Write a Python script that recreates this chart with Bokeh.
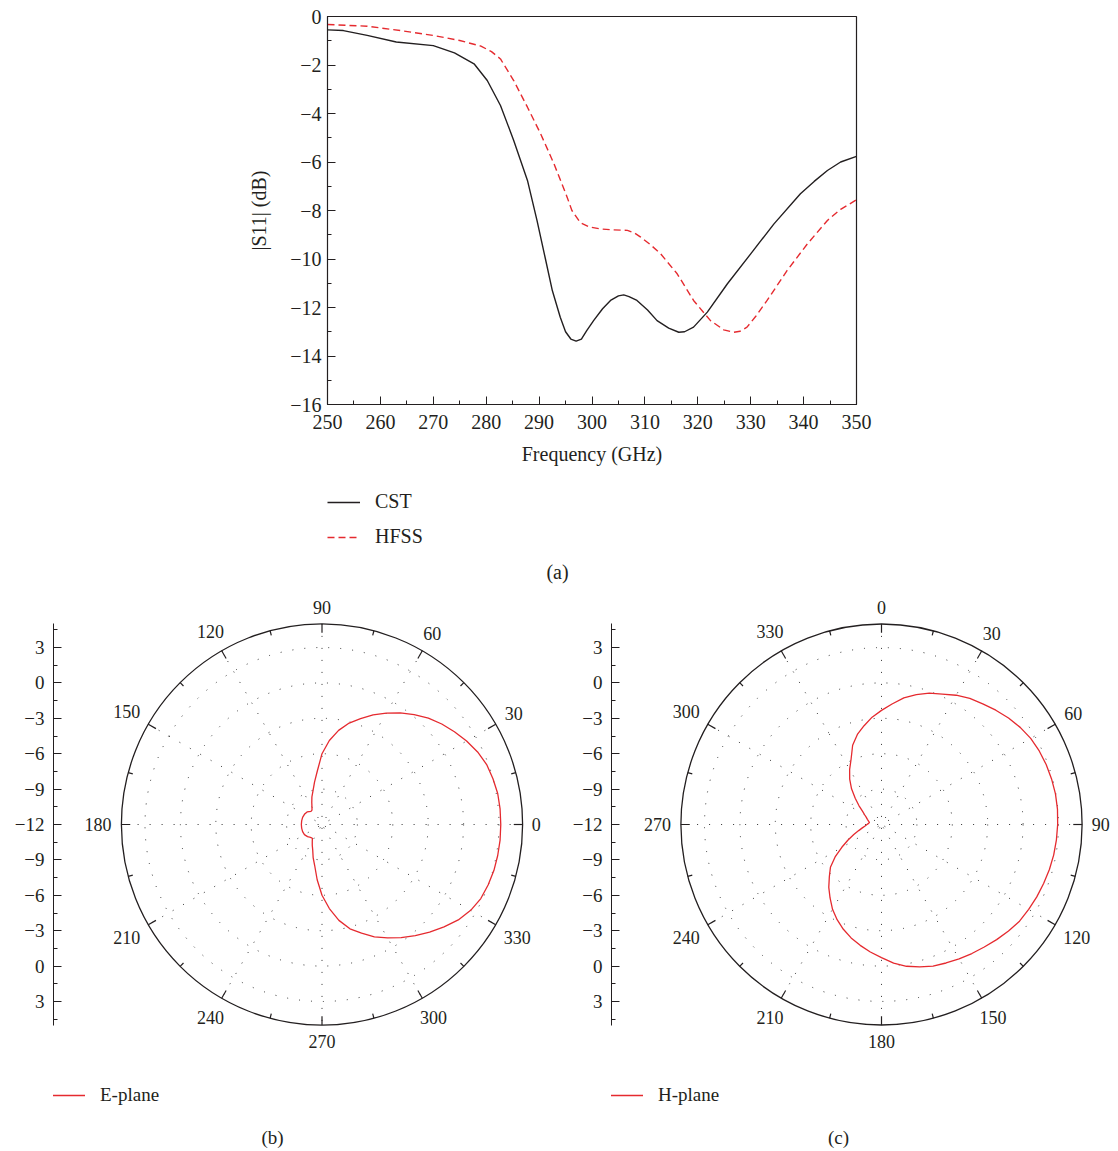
import numpy as np
from bokeh.plotting import figure
from bokeh.models import (Range1d, LinearAxis, FixedTicker, Legend, LegendItem,
                          Label, CustomJSTickFormatter)
from bokeh.layouts import column, row
from bokeh.embed import file_html
from bokeh.resources import INLINE
from bokeh.core.properties import value

FONT = "Liberation Serif"
INK = "#231f20"
RED = "#e52a2f"

# ---------------- data: (a) |S11| ----------------
cst_freq = [250, 253, 257.5, 263, 270, 274, 277.7, 280.2, 282.7, 285.2, 287.8, 289.6,
            291.2, 292.5, 294, 295, 296, 297, 298, 299, 300.3, 302, 303.5, 305, 306,
            307, 308.5, 310.5, 312.3, 314.5, 316.4, 317.5, 319.2, 321.8, 325.6, 330,
            334.4, 339.4, 342, 344.5, 347, 350]
cst_s11 = [-0.55, -0.58, -0.78, -1.05, -1.2, -1.5, -1.95, -2.64, -3.67, -5.11, -6.76, -8.41,
           -10.0, -11.3, -12.4, -13.0, -13.3, -13.39, -13.3, -12.95, -12.54, -12.05, -11.71,
           -11.52, -11.48, -11.55, -11.71, -12.1, -12.54, -12.85, -13.02, -13.0, -12.81,
           -12.19, -11.02, -9.79, -8.55, -7.31, -6.8, -6.35, -6.0, -5.77]
hfss_freq = [250, 257.5, 263.8, 270, 275, 279, 281, 282.7, 285.2, 287.8, 290.3, 292.8,
             295.3, 296.2, 297.8, 299.5, 301.6, 304, 306.7, 308, 309.2, 311, 313, 316.1,
             319.2, 322.4, 324.9, 326.8, 328, 329.3, 331, 333.1, 336.9, 340.7, 344.5,
             347, 350]
hfss_s11 = [-0.33, -0.4, -0.58, -0.78, -0.99, -1.22, -1.45, -1.75, -2.64, -3.74, -4.84,
            -6.07, -7.45, -8.0, -8.5, -8.68, -8.76, -8.8, -8.82, -8.92, -9.1, -9.4, -9.79,
            -10.61, -11.71, -12.54, -12.92, -13.02, -12.98, -12.81, -12.35, -11.71, -10.47,
            -9.38, -8.41, -7.95, -7.56]
freq_ticks = [250, 260, 270, 280, 290, 300, 310, 320, 330, 340, 350]
freq_minor = [250, 255, 260, 265, 270, 275, 280, 285, 290, 295, 300, 305, 310, 315, 320,
              325, 330, 335, 340, 345, 350]
s11_ticks = [-16, -14, -12, -10, -8, -6, -4, -2, 0]
s11_minor = [-16, -15, -14, -13, -12, -11, -10, -9, -8, -7, -6, -5, -4, -3, -2, -1, 0]

# ---------------- data: (b) E-plane, (c) H-plane (dB vs angle in degrees) ----------------
e_angle = [0, 5, 10, 15, 20, 25, 30, 35, 40, 45, 50, 55, 60, 65, 70, 75, 80, 85, 90, 95,
           100, 105, 110, 115, 120, 125, 130, 135, 140, 150, 160, 170, 180, 190, 200, 210,
           220, 225, 230, 235, 240, 245, 250, 255, 260, 265, 270, 275, 280, 285, 290, 295,
           300, 305, 310, 315, 320, 325, 330, 335, 340, 345, 350, 355, 360]
e_gain = [3.15, 3.15, 3.12, 3.0, 2.85, 2.55, 2.15, 1.7, 1.25, 0.75, 0.15, -0.45, -1.1,
          -1.75, -2.45, -3.1, -3.9, -4.85, -6.0, -7.45, -8.35, -9.05, -9.5, -9.95, -10.3,
          -10.52, -10.55, -10.45, -10.35, -10.28, -10.25, -10.25, -10.25, -10.25, -10.25,
          -10.28, -10.4, -10.5, -10.55, -10.58, -10.35, -10.05, -9.7, -9.1, -8.45, -7.3,
          -6.0, -4.85, -3.75, -2.85, -2.2, -1.5, -0.9, -0.3, 0.3, 0.9, 1.5, 2.1, 2.55,
          2.85, 2.98, 3.08, 3.12, 3.15, 3.15]
h_angle = [0, 5, 10, 15, 20, 25, 30, 35, 40, 45, 50, 55, 60, 65, 70, 75, 80, 85, 90, 95,
           100, 105, 110, 115, 120, 125, 130, 135, 140, 145, 150, 155, 160, 165, 170, 175,
           180, 185, 190, 195, 200, 205, 210, 215, 220, 225, 230, 235, 240, 245, 250, 255,
           260, 265, 270, 275, 279, 285, 290, 295, 300, 305, 310, 315, 320, 325, 330, 335,
           340, 345, 350, 355, 360]
h_gain = [-2.33, -1.75, -1.1, -0.6, -0.15, 0.2, 0.65, 1.05, 1.35, 1.7, 2.05, 2.35, 2.6,
          2.75, 2.85, 2.92, 2.97, 2.97, 2.93, 2.88, 2.82, 2.73, 2.62, 2.52, 2.4, 2.28, 2.05,
          1.8, 1.55, 1.35, 1.15, 0.95, 0.77, 0.5, 0.2, -0.2, -0.72, -1.15, -1.6, -2.05,
          -2.55, -3.1, -3.7, -4.4, -5.05, -5.75, -6.35, -7.2, -8.1, -8.85, -9.5, -10.0,
          -10.35, -10.6, -10.77, -10.9, -10.97, -10.86, -10.73, -10.58, -10.35, -10.03,
          -9.5, -8.85, -8.05, -7.3, -6.6, -5.9, -4.85, -4.1, -3.5, -2.87, -2.33]
polar_min_db = -12
polar_max_db = 5
polar_ring_db = [-9, -6, -3, 0, 3]
polar_label_db = [3, 0, -3, -6, -9, -12, -9, -6, -3, 0, 3]
angle_labels = [0, 30, 60, 90, 120, 150, 180, 210, 240, 270, 300, 330]

# ---------------- (a) ----------------
pa = figure(width=1118, height=470, x_range=Range1d(250, 350), y_range=Range1d(-16, 0),
            output_backend="svg", toolbar_location=None,
            min_border_left=327, min_border_right=262, min_border_top=16, min_border_bottom=66)
pa.xgrid.visible = False
pa.ygrid.visible = False
pa.outline_line_color = INK
pa.outline_line_alpha = 1
pa.outline_line_width = 1.2
pa.background_fill_color = None
pa.border_fill_color = None

pa.xaxis.ticker = FixedTicker(ticks=freq_ticks, minor_ticks=freq_minor)
pa.yaxis.ticker = FixedTicker(ticks=s11_ticks, minor_ticks=s11_minor)
pa.yaxis.formatter = CustomJSTickFormatter(
    code="return tick < 0 ? '\u2212' + Math.abs(tick) : String(tick);")
for ax in (pa.xaxis[0], pa.yaxis[0]):
    ax.major_tick_in = 8
    ax.major_tick_out = 0
    ax.minor_tick_in = 4
    ax.minor_tick_out = 0
    ax.axis_line_color = INK
    ax.major_tick_line_color = INK
    ax.minor_tick_line_color = INK
    ax.major_label_text_font = FONT
    ax.major_label_text_font_size = "20px"
    ax.major_label_text_color = INK
    ax.axis_label_text_font = FONT
    ax.axis_label_text_font_size = "20px"
    ax.axis_label_text_font_style = "normal"
    ax.axis_label_text_color = INK
pa.xaxis.axis_label = "Frequency (GHz)"
pa.yaxis.axis_label = "|S11| (dB)"
pa.xaxis.major_label_standoff = 10
pa.xaxis.axis_label_standoff = 11
pa.yaxis.major_label_standoff = 6
pa.yaxis.axis_label_standoff = 17

pa.line(cst_freq, cst_s11, line_color=INK, line_width=1.4)
pa.line(hfss_freq, hfss_s11, line_color=RED, line_width=1.4, line_dash="7 4")

# ---------------- legend / caption strip for (a) ----------------
# (the column layout aligns this strip's frame with the frame of (a): x 327..856 px)
STRIP_H = 120
pl = figure(width=1118, height=STRIP_H, x_range=Range1d(327, 856), y_range=Range1d(0, STRIP_H),
            output_backend="svg", toolbar_location=None, x_axis_type=None, y_axis_type=None,
            min_border_left=327, min_border_right=262, min_border_top=0, min_border_bottom=0)
pl.xgrid.visible = False
pl.ygrid.visible = False
pl.outline_line_color = None
pl.background_fill_color = None
pl.border_fill_color = None
# legend proxies: carry only the line styles, nothing is plotted by them
k_cst = pl.line(x=np.array([np.nan]), y=np.array([np.nan]), line_color=INK, line_width=1.4)
k_hfss = pl.line(x=np.array([np.nan]), y=np.array([np.nan]), line_color=RED, line_width=1.4,
                 line_dash="7 4")
leg_a = Legend(items=[LegendItem(label="CST", renderers=[k_cst]),
                      LegendItem(label="HFSS", renderers=[k_hfss])],
               location=(0, 42), orientation="vertical",
               border_line_alpha=0, background_fill_alpha=0, padding=0, margin=0,
               spacing=12, glyph_width=33, glyph_height=20, label_height=20,
               label_standoff=15, label_text_font=FONT, label_text_font_size="20px",
               label_text_color=INK)
pl.add_layout(leg_a)
pl.add_layout(Label(x=557, y=19, text="(a)", text_align="center", text_baseline="middle",
                    text_font=FONT, text_font_size="20px", text_color=INK))

# ---------------- polar helper ----------------
S = 11.8  # px per dB
FRAME_H = 561
CENTER_FROM_TOP = 234


def polar_fig(fig_w, border_left, center_from_frame_left, angles, gains, clockwise_from_top,
              legend_label, caption, caption_dx):
    frame_w = fig_w - border_left
    x0 = -center_from_frame_left / S
    x1 = x0 + frame_w / S
    y1 = CENTER_FROM_TOP / S
    y0 = y1 - FRAME_H / S
    p = figure(width=fig_w, height=FRAME_H, x_range=Range1d(x0, x1), y_range=Range1d(y0, y1),
               output_backend="svg", toolbar_location=None, x_axis_type=None, y_axis_type=None,
               min_border_left=border_left, min_border_right=0, min_border_top=0,
               min_border_bottom=0)
    p.xgrid.visible = False
    p.ygrid.visible = False
    p.outline_line_color = None
    p.background_fill_color = None
    p.border_fill_color = None

    rmax = polar_max_db - polar_min_db

    # left radial scale (mirrored about the centre)
    ax = LinearAxis(bounds=(-rmax, rmax))
    ax.ticker = FixedTicker(ticks=[d - polar_min_db if i < 6 else -(d - polar_min_db)
                                   for i, d in enumerate(polar_label_db)],
                            minor_ticks=list(np.arange(-16.5, 16.6, 1.5)))
    ax.formatter = CustomJSTickFormatter(
        code="const v = Math.abs(tick) - 12; return v < 0 ? '\u2212' + Math.abs(v) : String(v);")
    ax.major_tick_in = 8
    ax.major_tick_out = 0
    ax.minor_tick_in = 4
    ax.minor_tick_out = 0
    ax.axis_line_color = INK
    ax.major_tick_line_color = INK
    ax.minor_tick_line_color = INK
    ax.major_label_standoff = 9
    ax.major_label_text_font = FONT
    ax.major_label_text_font_size = "19px"
    ax.major_label_text_color = INK
    p.add_layout(ax, "left")

    # dotted rings
    rings = [d - polar_min_db for d in polar_ring_db]
    p.circle(x=[0] * len(rings), y=[0] * len(rings), radius=rings, fill_color=None,
             line_color="#333333", line_width=1, line_dash="1 11")
    # dotted spokes every 30 degrees
    sp = np.deg2rad(np.arange(0, 180, 30))
    p.segment(x0=rmax * np.cos(sp), y0=rmax * np.sin(sp), x1=-rmax * np.cos(sp),
              y1=-rmax * np.sin(sp), line_color="#333333", line_width=1, line_dash="1 11")
    # outer circle
    p.circle(x=[0], y=[0], radius=[rmax], fill_color=None, line_color=INK, line_width=1.3)
    # tick marks on the rim
    ta = np.arange(0, 360, 15)
    tl = np.where(ta % 30 == 0, 0.75, 0.4)
    tr = np.deg2rad(ta)
    p.segment(x0=rmax * np.cos(tr), y0=rmax * np.sin(tr), x1=(rmax - tl) * np.cos(tr),
              y1=(rmax - tl) * np.sin(tr), line_color=INK, line_width=1.2)

    # angle labels
    lab = np.array(angle_labels, dtype=float)
    math_ang = np.deg2rad(90 - lab) if clockwise_from_top else np.deg2rad(lab)
    txt = [str(a) for a in angle_labels]
    nch = np.array([len(t) for t in txt])
    rl = 17.75 + 0.5 * 0.82 * nch * np.abs(np.cos(math_ang)) + 0.5 * 1.2 * np.abs(np.sin(math_ang))
    p.text(x=rl * np.cos(math_ang), y=rl * np.sin(math_ang), text=txt, text_align="center",
           text_baseline="middle", text_font=value(FONT), text_font_size="18px",
           text_color=INK)

    # pattern
    a = np.deg2rad(np.array(angles, dtype=float))
    r = np.array(gains) - polar_min_db
    if clockwise_from_top:
        xs, ys = r * np.sin(a), r * np.cos(a)
    else:
        xs, ys = r * np.cos(a), r * np.sin(a)
    rl_ = p.line(xs, ys, line_color=RED, line_width=1.3)

    leg = Legend(items=[LegendItem(label=legend_label, renderers=[rl_])],
                 location=(-1, 45), border_line_alpha=0, background_fill_alpha=0,
                 padding=0, margin=0, glyph_width=33, glyph_height=20, label_height=20,
                 label_standoff=15, label_text_font=FONT, label_text_font_size="19px",
                 label_text_color=INK)
    p.add_layout(leg)
    p.add_layout(Label(x=caption_dx / S, y=-(1137 - 824) / S, text=caption,
                       text_align="center", text_baseline="middle", text_font=FONT,
                       text_font_size="19px", text_color=INK))
    return p


pb = polar_fig(560, 53, 321.5 - 53, e_angle, e_gain, False, "E-plane", "(b)", 272 - 321.5)
pc = polar_fig(558, 51, 881 - 611, h_angle, h_gain, True, "H-plane", "(c)", 838 - 881)

layout = column(pa, pl, row(pb, pc, spacing=0), spacing=0)
open("out.html", "w").write(file_html(layout, INLINE, title="S11 and radiation patterns"))
